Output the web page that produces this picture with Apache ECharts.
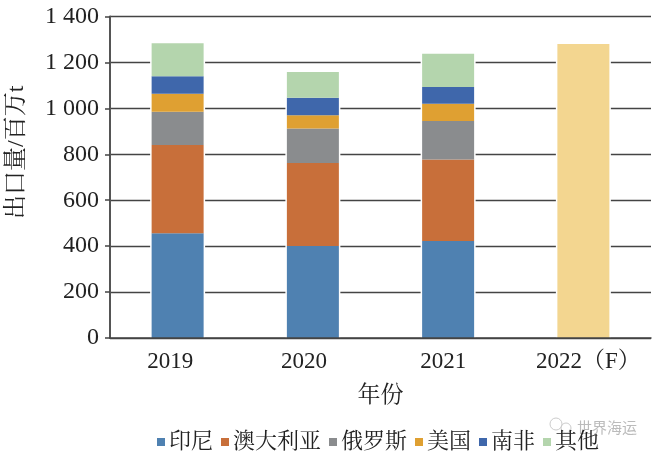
<!DOCTYPE html>
<html>
<head>
<meta charset="utf-8">
<style>html,body{margin:0;padding:0;background:#fff}#c{width:660px;height:458px}</style>
<script src="https://cdn.jsdelivr.net/npm/echarts@6/dist/echarts.min.js"></script>
</head>
<body>
<div id="c"></div>
<script>
const categories = ['2019', '2020', '2021', '2022（F）'];
const indonesia = [456, 401, 422, null];
const australia = [384, 361, 355, null];
const russia = [145, 150, 168, null];
const usa = [79, 58, 75, null];
const southAfrica = [76, 76, 73, null];
const others = [144, 112, 145, null];
const forecast = [null, null, null, 1280];
const seriesNames = ['印尼', '澳大利亚', '俄罗斯', '美国', '南非', '其他'];

const FONT = '"Liberation Serif","Noto Serif CJK SC","Noto Sans CJK SC",serif';
const stacks = [indonesia, australia, russia, usa, southAfrica, others];
const colors = ['#4f81b1', '#c86f3a', '#8a8c8e', '#dfa032', '#3f67ab', '#b4d5ad'];
const totals = categories.map((_, i) =>
  stacks.reduce((s, a) => s + (a[i] || 0), 0) + (forecast[i] || 0));

const chart = echarts.init(document.getElementById('c'), null, {renderer: 'canvas'});
const series = [{
  name: '间隔', type: 'bar', xAxisIndex: 1, data: totals, barWidth: 55, z: 1,
  silent: true, itemStyle: {color: '#fff'}
}];
seriesNames.forEach((n, k) => series.push({
  name: n, type: 'bar', stack: 'a', data: stacks[k], barWidth: 52, z: 3,
  itemStyle: {color: colors[k]}
}));
series.push({
  name: '2022', type: 'bar', stack: 'a', data: forecast, barWidth: 52, z: 3,
  itemStyle: {color: '#f3d690'}
});

chart.setOption({
  animation: false,
  backgroundColor: '#fff',
  textStyle: {fontFamily: FONT},
  grid: {left: 110, right: 9, top: 16.5, bottom: 120, outerBoundsMode: 'none'},
  legend: {
    data: seriesNames, left: 152, top: 426, itemWidth: 8, itemHeight: 8, itemGap: 8,
    icon: 'rect', selectedMode: false,
    textStyle: {fontFamily: FONT, fontSize: 22, color: '#222', padding: [0, 0, 0, -1]}
  },
  xAxis: [{
    type: 'category', data: categories,
    name: '年份', nameLocation: 'middle', nameGap: 46,
    nameTextStyle: {fontFamily: FONT, fontSize: 23, color: '#222'},
    axisLine: {lineStyle: {color: '#444', width: 1.5}},
    axisTick: {inside: true, length: 3, lineStyle: {color: '#444'}},
    axisLabel: {
      interval: 0, hideOverlap: false, margin: 12, color: '#222', fontFamily: FONT, fontSize: 23,
      formatter: (v, i) => '{p' + i + '|' + v + '}',
      rich: {
        p0: {fontFamily: FONT, fontSize: 23, color: '#222', padding: [0, 15, 0, 0]},
        p1: {fontFamily: FONT, fontSize: 23, color: '#222', padding: [0, 18, 0, 0]},
        p2: {fontFamily: FONT, fontSize: 23, color: '#222', padding: [0, 10, 0, 0]},
        p3: {fontFamily: FONT, fontSize: 23, color: '#222', padding: [0, 0, 0, 10]}
      }
    },
    z: 5
  }, {
    type: 'category', data: categories, show: false
  }],
  yAxis: {
    type: 'value', min: 0, max: 1400, interval: 200,
    name: '出口量/百万t', nameLocation: 'middle', nameGap: 81,
    nameTextStyle: {fontFamily: FONT, fontSize: 24, color: '#222', padding: [0, 0, 0, 50]},
    axisLine: {show: true, lineStyle: {color: '#555', width: 2}},
    axisTick: {show: true, length: 5, lineStyle: {color: '#444', width: 1.5}},
    axisLabel: {
      margin: 11, color: '#222', fontFamily: FONT, fontSize: 24,
      formatter: v => v >= 1000 ? Math.floor(v / 1000) + ' ' + String(v % 1000).padStart(3, '0') : String(v)
    },
    splitLine: {show: true, lineStyle: {color: '#444', width: 1.3}}
  },
  graphic: [
    {type: 'text', left: 577, top: 420, z: 0, style: {text: '世界海运', fontSize: 15, fill: '#bbb', fontFamily: '"Noto Sans CJK SC"'}},
    {type: 'circle', shape: {cx: 556, cy: 424, r: 6}, style: {fill: 'none', stroke: '#ccc', lineWidth: 1}},
    {type: 'circle', shape: {cx: 566, cy: 428, r: 5}, style: {fill: 'none', stroke: '#ccc', lineWidth: 1}}
  ],
  series
});
</script>
</body>
</html>
